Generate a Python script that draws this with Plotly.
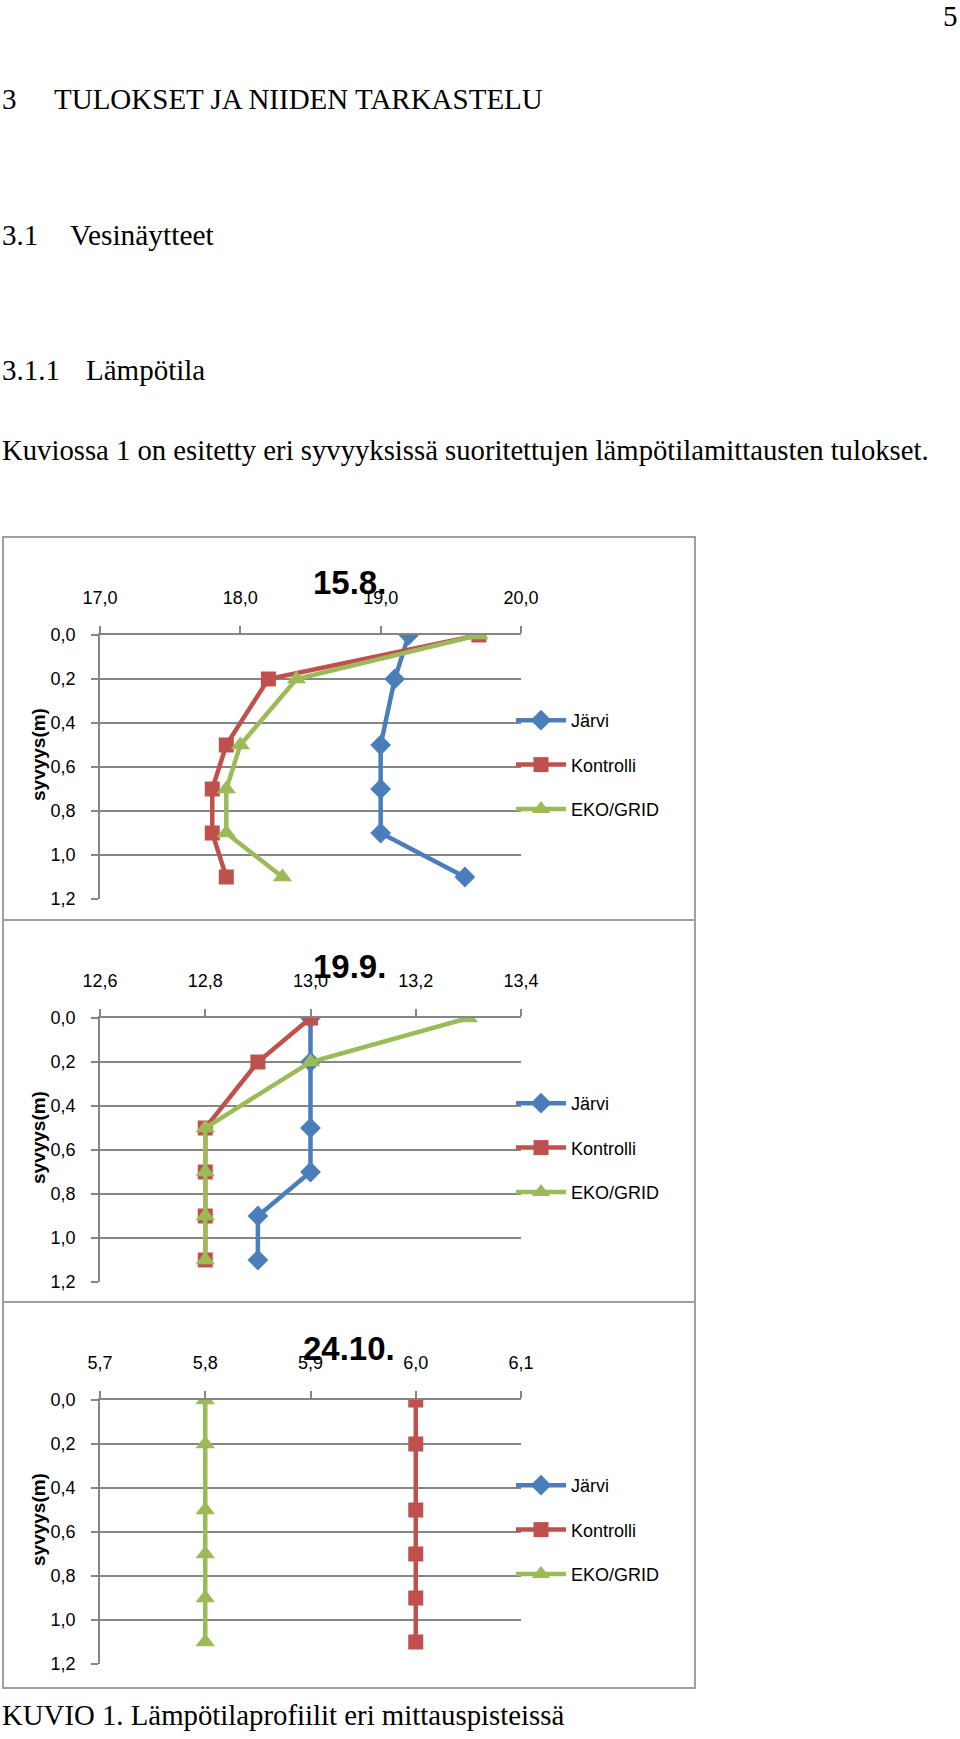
import plotly.graph_objects as go

W, H = 960, 1739

# ---- data ----
depths = [0.0, 0.2, 0.5, 0.7, 0.9, 1.1]
series_names = ["Järvi", "Kontrolli", "EKO/GRID"]

titles = ["15.8.", "19.9.", "24.10."]

jarvi_1508 = [19.2, 19.1, 19.0, 19.0, 19.0, 19.6]
kontrolli_1508 = [19.7, 18.2, 17.9, 17.8, 17.8, 17.9]
eko_1508 = [19.7, 18.4, 18.0, 17.9, 17.9, 18.3]

jarvi_1909 = [13.0, 13.0, 13.0, 13.0, 12.9, 12.9]
kontrolli_1909 = [13.0, 12.9, 12.8, 12.8, 12.8, 12.8]
eko_1909 = [13.3, 13.0, 12.8, 12.8, 12.8, 12.8]

jarvi_2410 = [None, None, None, None, None, None]
kontrolli_2410 = [6.0, 6.0, 6.0, 6.0, 6.0, 6.0]
eko_2410 = [5.8, 5.8, 5.8, 5.8, 5.8, 5.8]

x_ranges = [[17.0, 20.0], [12.6, 13.4], [5.7, 6.1]]
x_dticks = [1.0, 0.2, 0.1]

y_label = "syvyys(m)"

page_heading = "3"
page_heading_text = "TULOKSET JA NIIDEN TARKASTELU"
sub1_num, sub1_text = "3.1", "Vesinäytteet"
sub2_num, sub2_text = "3.1.1", "Lämpötila"
paragraph = "Kuviossa 1 on esitetty eri syvyyksissä suoritettujen lämpötilamittausten tulokset."
caption = "KUVIO 1. Lämpötilaprofiilit eri mittauspisteissä"
page_number = "5"

# ---- styling ----
colors = ["#4A7EBB", "#C0504D", "#9BBB59"]
symbols = ["diamond", "square", "triangle-up"]
msizes = [16, 15, 17]
SANS = "Liberation Sans, Arial, sans-serif"
SERIF = "Liberation Serif, Times New Roman, serif"
GRID = "#868686"


def px(x):
    return x / W


def py(y):
    return 1 - y / H


chart_tops = [537, 920, 1302]
chart_bottoms = [920, 1302, 1688]
plot_x0, plot_x1 = 100, 521

data_sets = [
    [jarvi_1508, kontrolli_1508, eko_1508],
    [jarvi_1909, kontrolli_1909, eko_1909],
    [jarvi_2410, kontrolli_2410, eko_2410],
]

fig = go.Figure()
layout = dict(
    width=W, height=H,
    margin=dict(l=0, r=0, t=0, b=0, autoexpand=False),
    paper_bgcolor="white", plot_bgcolor="white",
    separators=", ",
    font=dict(family=SANS, color="#000000"),
    annotations=[], shapes=[],
)

for i in range(3):
    top = chart_tops[i]
    g0 = top + 98
    g1 = top + 362
    sfx = "" if i == 0 else str(i + 1)
    xa = "x" + sfx
    ya = "y" + sfx
    leg = "legend" + sfx
    for k in range(3):
        fig.add_trace(go.Scatter(
            x=data_sets[i][k], y=depths, name=series_names[k],
            mode="lines+markers", xaxis=xa, yaxis=ya, legend=leg,
            legendgroup=f"g{i}_{k}",
            line=dict(color=colors[k], width=4.5),
            marker=dict(symbol=symbols[k], size=msizes[k], color=colors[k]),
            connectgaps=False,
        ))
    layout["xaxis" + sfx] = dict(
        domain=[px(plot_x0), px(plot_x1)], range=x_ranges[i], anchor=ya,
        side="top", showline=True, linecolor=GRID, linewidth=1.5,
        ticks="outside", ticklen=7, tickcolor=GRID, tickwidth=1.5,
        showgrid=False, zeroline=False, dtick=x_dticks[i], tick0=x_ranges[i][0],
        tickformat=".1f", tickfont=dict(size=18, family=SANS, color="#000"),
        ticklabelstandoff=15,
    )
    layout["yaxis" + sfx] = dict(
        domain=[py(g1), py(g0)], range=[1.2, 0], anchor=xa,
        showline=True, linecolor=GRID, linewidth=1.5,
        ticks="outside", ticklen=7, tickcolor=GRID, tickwidth=1.5,
        showgrid=True, gridcolor=GRID, gridwidth=1.5, zeroline=False,
        dtick=0.2, tick0=0, tickformat=".1f",
        tickfont=dict(size=18, family=SANS, color="#000"),
        ticklabelstandoff=12,
    )
    layout[leg] = dict(
        x=px(511), xanchor="left", y=py(top + 228), yanchor="middle",
        bgcolor="rgba(0,0,0,0)", font=dict(size=18, family=SANS, color="#000"),
        itemwidth=50, tracegroupgap=18, traceorder="grouped",
    )
    # chart frame
    layout["shapes"].append(dict(
        type="rect", xref="paper", yref="paper",
        x0=px(3), x1=px(695), y0=py(chart_bottoms[i]), y1=py(top),
        line=dict(color="#A0A0A0", width=2), fillcolor="rgba(0,0,0,0)",
    ))
    # chart title
    layout["annotations"].append(dict(
        text=f"<b>{titles[i]}</b>", xref="paper", yref="paper",
        x=px(349), y=py(top + 46), xanchor="center", yanchor="middle",
        showarrow=False, font=dict(size=33, family=SANS, color="#000"),
    ))
    # y axis title
    layout["annotations"].append(dict(
        text=f"<b>{y_label}</b>", xref="paper", yref="paper",
        x=px(38), y=py(top + 218), xanchor="center", yanchor="middle",
        textangle=-90, showarrow=False,
        font=dict(size=19, family=SANS, color="#000"),
    ))

# page text
def page_text(t, x, y, size, xanchor="left"):
    layout["annotations"].append(dict(
        text=t, xref="paper", yref="paper", x=px(x), y=py(y),
        xanchor=xanchor, yanchor="middle", showarrow=False,
        font=dict(size=size, family=SERIF, color="#000"),
    ))

page_text(page_number, 960, 16, 29, xanchor="right")
page_text(page_heading, 0, 99, 29)
page_text(page_heading_text, 52, 99, 29)
page_text(sub1_num, 0, 235, 29)
page_text(sub1_text, 68, 235, 29.4)
page_text(sub2_num, 0, 370, 29)
page_text(sub2_text, 84, 370, 29)
page_text(paragraph, 0, 450, 28.7)
page_text(caption, 0, 1715, 28.8)

fig.update_layout(**layout)
fig.write_html(
    "out.html",
    config={"displayModeBar": False},
    post_script="document.body.style.margin='0px';document.body.style.padding='0px';",
)
